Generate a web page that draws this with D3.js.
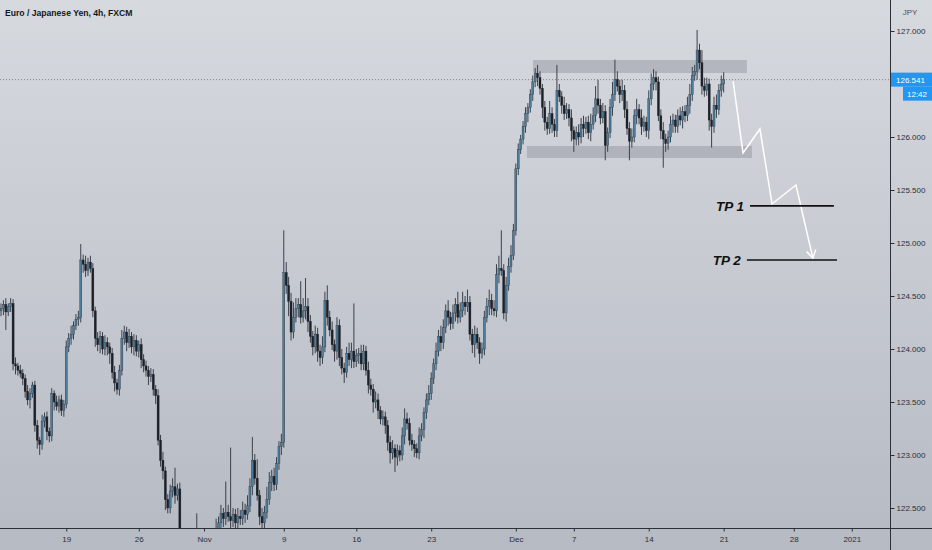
<!DOCTYPE html>
<html><head><meta charset="utf-8">
<script src="https://cdn.jsdelivr.net/npm/d3@7"></script>
<style>html,body{margin:0;padding:0;overflow:hidden;background:#c8cbd1}</style>
</head><body><svg id="c" width="932" height="550"></svg>
<script>
const title = "Euro / Japanese Yen, 4h, FXCM";
const currency = "JPY";
const firstOpen = 124.36;
const closes = [
124.38,124.42,124.35,124.40,124.43,123.86,123.84,123.80,123.77,123.72,
123.60,123.52,123.58,123.66,123.28,123.14,123.10,123.32,123.36,123.22,
123.18,123.58,123.50,123.46,123.52,123.42,123.48,124.02,124.10,124.14,
124.22,124.28,124.30,124.84,124.80,124.74,124.82,124.76,124.36,124.10,
124.04,124.12,124.00,124.06,124.02,123.96,123.78,123.68,123.62,123.80,
124.10,124.16,124.06,124.12,124.02,124.08,123.98,124.04,123.90,123.84,
123.80,123.74,123.76,123.62,123.56,123.14,122.95,122.85,122.58,122.50,
122.66,122.70,122.62,122.68,122.18,122.10,122.20,122.05,122.15,122.08,
122.12,122.22,122.10,122.18,122.05,122.12,122.20,122.15,122.25,122.30,
122.36,122.45,122.40,122.46,122.42,122.38,122.44,122.36,122.42,122.40,
122.48,122.44,122.52,122.70,122.95,122.78,122.62,122.42,122.36,122.46,
122.58,122.74,122.80,122.72,122.92,123.08,123.12,124.72,124.60,124.45,
124.16,124.30,124.38,124.42,124.30,124.36,124.40,124.26,124.12,124.02,
124.14,123.98,123.92,124.02,124.46,124.30,124.18,124.04,123.98,124.22,
123.92,123.82,123.78,123.96,123.90,123.98,123.88,123.94,123.96,123.86,
123.98,123.80,123.66,123.62,123.50,123.52,123.42,123.34,123.36,123.28,
123.12,123.02,123.06,122.98,123.04,123.00,123.18,123.34,123.30,123.14,
123.10,123.06,123.02,123.18,123.24,123.40,123.52,123.58,123.72,123.86,
123.98,124.12,124.06,124.20,124.36,124.30,124.24,124.34,124.42,124.30,
124.36,124.44,124.40,124.44,124.14,124.04,124.14,124.06,123.96,124.00,
124.30,124.40,124.46,124.38,124.36,124.70,124.76,124.74,124.34,124.60,
124.78,124.88,125.12,125.70,125.88,125.98,126.10,126.22,126.28,126.40,
126.52,126.60,126.56,126.46,126.28,126.14,126.08,126.22,126.12,126.06,
126.44,126.38,126.30,126.22,126.26,126.18,126.06,125.98,126.04,126.00,
126.12,126.08,126.14,126.04,126.12,126.20,126.36,126.30,126.18,126.24,
125.92,126.04,126.28,126.40,126.54,126.48,126.40,126.44,126.26,126.08,
125.96,126.00,126.20,126.26,126.18,126.10,126.14,126.06,126.36,126.50,
126.56,126.52,126.20,126.06,125.98,125.94,126.00,126.12,126.16,126.10,
126.20,126.16,126.24,126.20,126.30,126.40,126.58,126.62,126.82,126.70,
126.48,126.44,126.50,126.16,126.10,126.30,126.26,126.44,126.50,126.541];
// wick lengths above / below the body, in hundredths of a yen
const upWick = [
5,4,6,3,5,4,6,3,5,4, 4,6,5,3,4,5,3,6,4,5, 4,5,3,6,4,5,4,6,5,8,
4,5,6,15,5,8,4,6,5,4, 6,5,4,7,5,4,5,6,4,5, 8,6,5,7,4,6,5,4,6,5,
5,4,6,5,4,6,5,8,4,5, 6,8,18,5,6,4,5,8,4,6, 5,23,6,4,7,5,8,4,6,10,
6,8,5,29,7,65,6,5,8,6, 8,6,10,8,22,6,18,5,8,6, 12,10,6,8,6,5,8,40,10,8,
8,14,10,6,22,12,27,8,6,5, 8,6,6,10,8,14,6,8,5,8, 6,8,5,6,10,8,45,6,5,8,
6,5,8,6,5,8,6,4,6,5, 5,6,8,4,6,5,8,10,6,5, 6,4,5,8,6,5,6,8,6,5,
8,6,10,8,6,10,5,8,6,12, 8,10,6,12,6,5,8,6,5,6, 6,8,10,6,8,10,12,36,6,8,
8,10,6,5,6,4,5,6,4,5, 6,5,8,6,4,6,5,12,6,5, 24,6,5,8,6,5,8,4,6,8,
6,8,5,6,10,8,12,18,6,8, 6,5,8,12,19,8,6,10,5,8, 6,8,6,10,5,8,6,5,8,10,
8,6,5,6,8,5,6,8,6,5, 6,8,5,6,8,10,8,6,19,6, 12,8,6,5,6,8,10,6,8,7];
const downWick = [
5,6,17,4,5,6,8,5,4,6, 6,5,8,4,6,8,10,5,6,8, 6,5,8,4,6,5,6,4,5,6,
5,4,6,5,8,6,5,4,6,8, 6,8,5,6,8,10,6,8,5,6, 5,6,8,5,6,8,5,6,8,6,
6,8,5,6,8,5,6,8,10,5, 5,6,8,5,6,8,5,6,8,5, 6,5,8,6,5,6,8,5,6,8,
6,5,8,6,5,8,6,5,8,6, 6,8,5,6,8,6,5,8,6,5, 6,5,8,6,5,6,8,5,8,14,
8,6,5,8,6,5,8,10,6,8, 6,10,8,6,5,8,6,5,10,8, 8,6,10,5,6,8,6,5,8,6,
6,5,8,6,10,6,8,5,6,8, 8,10,6,14,8,6,5,8,6,5, 6,8,5,6,5,8,6,5,6,5,
6,5,8,6,5,8,6,5,8,6, 5,6,8,5,6,8,12,6,10,5, 6,5,8,6,5,6,8,5,6,8,
5,6,4,5,6,4,5,6,8,5, 6,5,8,6,10,8,6,5,8,6, 6,5,8,6,5,8,10,12,6,8,
6,8,5,6,8,5,6,8,6,5, 14,6,5,8,6,5,8,6,8,6, 18,6,5,8,6,8,5,6,8,6,
6,8,5,8,27,8,6,5,8,6, 6,5,8,6,5,8,6,5,8,6, 8,6,5,10,20,6,8,5,6,8];

// 126.500 is hidden under the last-price label in the reference
const priceTicks = [122.5,123,123.5,124,124.5,125,125.5,126,127];
const dateTicks  = [27,57,84,117,147,178,213,237,268,299,328,352];
const dateLabels = ["19","26","Nov","9","16","23","Dec","7","14","21","28","2021"];
const lastPrice = 126.541;
const countdown = "12:42";
// zones: [startBar, endBar, topPrice, bottomPrice]
const zoneStart = [220.1, 217.6];
const zoneEnd   = [308.6, 310.7];
const zoneTop   = [126.726, 125.915];
const zoneBottom= [126.604, 125.802];
// projected path
const pathIdx   = [302.9, 307.0, 314.0, 319.0, 328.9, 335.9];
const pathPrice = [126.528, 125.849, 126.075, 125.368, 125.547, 124.858];
// targets
const tpNames = ["TP 1", "TP 2"];
const tpPrice = [125.35, 124.84];
const tpStart = [309.9, 308.6];
const tpEnd   = [344.6, 345.9];

const W = 932, H = 550, axisX = 890, axisY = 528;
const svg = d3.select("#c");
const defs = svg.append("defs");
const g0 = defs.append("linearGradient").attr("id","bg").attr("x1",0).attr("y1",0).attr("x2",0).attr("y2",1);
g0.append("stop").attr("offset","0%").attr("stop-color","#d6d9de");
g0.append("stop").attr("offset","100%").attr("stop-color","#b6bac3");
defs.append("clipPath").attr("id","plot").append("rect").attr("x",0).attr("y",0).attr("width",axisX).attr("height",axisY);
svg.append("rect").attr("width",W).attr("height",H).attr("fill","url(#bg)");

const x = d3.scaleLinear().domain([0,100]).range([1,242.7]);
const y = d3.scaleLinear().domain([122.5,127]).range([508,31]);

const data = closes.map((c,i)=>{
  const o = i===0 ? firstOpen : closes[i-1];
  return {i, o, c, h: Math.max(o,c)+upWick[i]/100, l: Math.min(o,c)-downWick[i]/100};
});

const plot = svg.append("g").attr("clip-path","url(#plot)");

plot.append("line").attr("x1",0).attr("x2",axisX).attr("y1",y(lastPrice)).attr("y2",y(lastPrice))
  .attr("stroke","#7f838c").attr("stroke-width",1).attr("stroke-dasharray","1,2");

plot.selectAll("rect.zone").data(zoneStart).join("rect").attr("class","zone")
  .attr("x",(d,i)=>x(d)).attr("width",(d,i)=>x(zoneEnd[i])-x(d))
  .attr("y",(d,i)=>y(zoneTop[i])).attr("height",(d,i)=>y(zoneBottom[i])-y(zoneTop[i]))
  .attr("fill","#80838d").attr("opacity",0.38);

const cg = plot.append("g");
cg.selectAll("line").data(data).join("line")
  .attr("x1",d=>x(d.i)).attr("x2",d=>x(d.i)).attr("y1",d=>y(d.h)).attr("y2",d=>y(d.l))
  .attr("stroke","#3c414b").attr("stroke-width",1);
cg.selectAll("rect").data(data).join("rect")
  .attr("x",d=>x(d.i)-1).attr("width",2)
  .attr("y",d=>y(Math.max(d.o,d.c))).attr("height",d=>Math.max(1,Math.abs(y(d.o)-y(d.c))))
  .attr("fill",d=>d.c>=d.o?"#4e7c9d":"#1c2027")
  .attr("stroke",d=>d.c>=d.o?"#2f3b47":"#1c2027").attr("stroke-width",0.4);

const pts = pathIdx.map((d,i)=>[x(d), y(pathPrice[i])]);
plot.append("path").attr("d", d3.line()(pts)).attr("fill","none").attr("stroke","#ffffff").attr("stroke-width",1.5);
{
  const a = pts[pts.length-2], b = pts[pts.length-1];
  const ang = Math.atan2(b[1]-a[1], b[0]-a[0]);
  const L = 9, s = 0.55;
  const p1 = [b[0]-L*Math.cos(ang-s), b[1]-L*Math.sin(ang-s)];
  const p2 = [b[0]-L*Math.cos(ang+s), b[1]-L*Math.sin(ang+s)];
  plot.append("path").attr("d", d3.line()([p1,b,p2])).attr("fill","none").attr("stroke","#fff").attr("stroke-width",1.5);
}

tpNames.forEach((n,i)=>{
  plot.append("line").attr("x1",x(tpStart[i])).attr("x2",x(tpEnd[i])).attr("y1",y(tpPrice[i])).attr("y2",y(tpPrice[i]))
    .attr("stroke","#111").attr("stroke-width",1.6);
  plot.append("text").attr("x",x(tpStart[i])-6).attr("y",y(tpPrice[i])+5).attr("text-anchor","end")
    .attr("font-family","Liberation Sans, Arial, sans-serif").attr("font-style","italic").attr("font-weight","bold")
    .attr("font-size",13.5).attr("fill","#111").text(n);
});

svg.append("line").attr("x1",axisX+0.5).attr("x2",axisX+0.5).attr("y1",0).attr("y2",H).attr("stroke","#2b2f38").attr("stroke-width",1);
svg.append("line").attr("x1",0).attr("x2",W).attr("y1",axisY+0.5).attr("y2",axisY+0.5).attr("stroke","#2b2f38").attr("stroke-width",1);

const yAxis = d3.axisRight(y).tickValues(priceTicks).tickFormat(d3.format(".3f")).tickSize(4).tickPadding(2);
const ya = svg.append("g").attr("transform",`translate(${axisX+0.5},0)`).call(yAxis);
ya.select(".domain").remove();
ya.selectAll("line").attr("stroke","#2b2f38");
ya.selectAll("text").attr("fill","#2b2f38").attr("font-size",8).attr("font-family","Liberation Sans, Arial, sans-serif");

const xAxis = d3.axisBottom(x).tickValues(dateTicks).tickFormat((d,i)=>dateLabels[i]).tickSize(3).tickPadding(5);
const xa = svg.append("g").attr("transform",`translate(0,${axisY+0.5})`).call(xAxis);
xa.select(".domain").remove();
xa.selectAll("line").attr("stroke","#2b2f38");
xa.selectAll("text").attr("fill","#2b2f38").attr("font-size",8).attr("font-family","Liberation Sans, Arial, sans-serif");

svg.append("text").attr("x",5).attr("y",15.5).attr("font-family","Liberation Sans, Arial, sans-serif")
  .attr("font-weight","bold").attr("font-size",8.6).attr("fill","#131722").text(title);
svg.append("text").attr("x",910).attr("y",15).attr("text-anchor","middle").attr("font-family","Liberation Sans, Arial, sans-serif")
  .attr("font-size",8).attr("fill","#4a4e58").text(currency);

const ly = y(lastPrice);
svg.append("rect").attr("x",axisX+1).attr("y",ly-7).attr("width",W-axisX-1).attr("height",14).attr("fill","#2196f3");
svg.append("text").attr("x",axisX+6).attr("y",ly+3).attr("font-family","Liberation Sans, Arial, sans-serif")
  .attr("font-size",8).attr("fill","#fff").text(d3.format(".3f")(lastPrice));
svg.append("rect").attr("x",903).attr("y",ly+7).attr("width",W-903).attr("height",14).attr("fill","#2196f3");
svg.append("text").attr("x",917).attr("y",ly+17).attr("text-anchor","middle").attr("font-family","Liberation Sans, Arial, sans-serif")
  .attr("font-size",8).attr("fill","#fff").text(countdown);
</script></body></html>
